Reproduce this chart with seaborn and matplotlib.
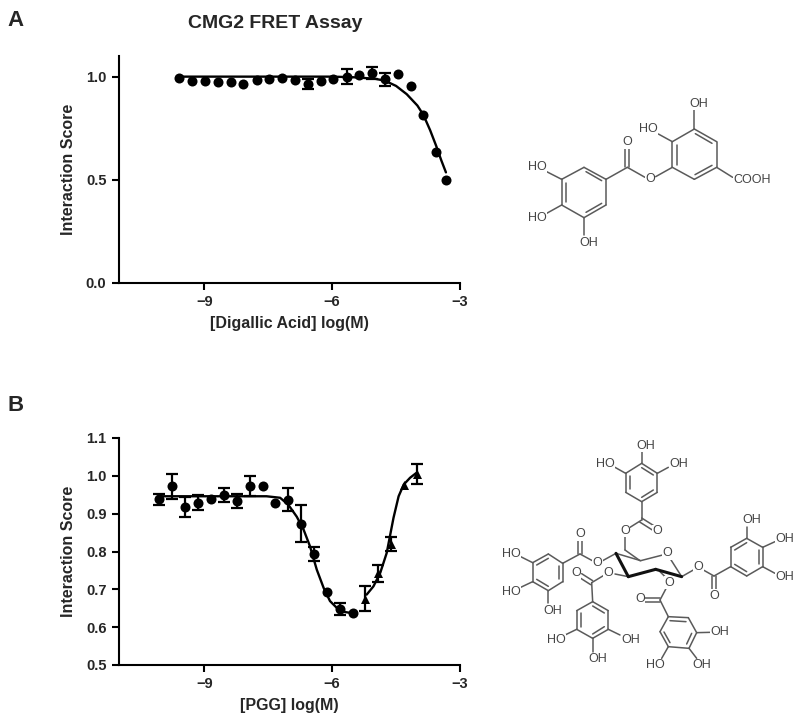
import matplotlib
matplotlib.use("Agg")
import matplotlib.pyplot as plt
import seaborn as sns
import pandas as pd

sns.set_theme(style="ticks")
plt.rcParams['font.family'] = ['Liberation Sans', 'DejaVu Sans']
plt.rcParams['font.weight'] = 'bold'

# panel A data
a_x = [-9.59, -9.28, -8.98, -8.68, -8.38, -8.08, -7.77, -7.47, -7.18, -6.87, -6.57,
       -6.27, -5.97, -5.66, -5.37, -5.06, -4.76, -4.46, -4.16, -3.86, -3.56, -3.33]
a_y = [0.995, 0.979, 0.977, 0.974, 0.974, 0.963, 0.984, 0.989, 0.992, 0.985, 0.963,
       0.979, 0.990, 1.0, 1.006, 1.019, 0.987, 1.015, 0.955, 0.813, 0.635, 0.500]
a_err = [0, 0, 0, 0, 0, 0, 0, 0, 0, 0, 0.025,
         0, 0, 0.035, 0, 0.03, 0.03, 0, 0, 0, 0, 0]
a_curve_x = [-9.59, -7.0, -6.0, -5.5, -5.0, -4.76, -4.5, -4.25, -4.0, -3.86, -3.7, -3.56, -3.44, -3.33]
a_curve_y = [1.0, 1.0, 1.0, 0.997, 0.99, 0.98, 0.955, 0.915, 0.86, 0.815, 0.74, 0.665, 0.595, 0.536]

# panel B data, circles then triangles
b_x = [-10.06, -9.75, -9.45, -9.14, -8.84, -8.54, -8.24, -7.93, -7.63, -7.33, -7.03,
       -6.73, -6.42, -6.13, -5.82, -5.52]
b_y = [0.938, 0.973, 0.918, 0.929, 0.940, 0.949, 0.933, 0.974, 0.973, 0.928, 0.937,
       0.874, 0.794, 0.692, 0.648, 0.637]
b_err = [0.014, 0.033, 0.026, 0.02, 0, 0.018, 0.019, 0.026, 0, 0, 0.031,
         0.048, 0.0185, 0, 0.016, 0]
tri_x = [-5.22, -4.92, -4.61, -4.32, -4.02]
tri_y = [0.675, 0.742, 0.820, 0.977, 1.004]
tri_err = [0.033, 0.022, 0.018, 0, 0.026]
b_curve1_x = [-10.06, -8.5, -7.54, -7.22, -7.03, -6.83, -6.67, -6.52, -6.36, -6.20, -6.05, -5.89, -5.70, -5.52]
b_curve1_y = [0.946, 0.946, 0.946, 0.942, 0.924, 0.892, 0.858, 0.814, 0.752, 0.704, 0.669, 0.651, 0.640, 0.637]
b_curve2_x = [-5.19, -5.03, -4.87, -4.72, -4.56, -4.44, -4.32, -4.17, -4.02]
b_curve2_y = [0.686, 0.708, 0.744, 0.796, 0.889, 0.946, 0.977, 0.995, 1.008]

x_ticks = [-9, -6, -3]
a_yticks = [0.0, 0.5, 1.0]
b_yticks = [0.5, 0.6, 0.7, 0.8, 0.9, 1.0, 1.1]

# molecule drawings, bonds as x1,y1,x2,y2 in a local grid
mol_a_bonds = [
    (222,232,288,268),(288,268,288,345),(288,345,222,383),(222,383,155,345),(155,345,155,268),(155,268,222,232),
    (228,245,275,272),(275,340,228,367),(168,335,168,278),
    (155,268,110,245),(155,345,110,370),(222,383,222,435),(288,268,352,232),
    (346,232,346,175),(358,232,358,175),(352,232,405,262),(437,260,487,232),
    (487,232,553,268),(553,268,620,232),(620,232,620,155),(620,155,553,117),(553,117,487,155),(487,155,487,232),
    (555,254,606,226),(606,160,556,131),(500,165,500,225),
    (487,155,445,132),(553,117,553,60),(620,232,668,262),
]
mol_a_labels = [(82,232,"HO"),(82,383,"HO"),(235,460,"OH"),(352,157,"O"),(420,268,"O"),
                (415,118,"HO"),(565,42,"OH"),(725,270,"COOH")]
mol_b_bonds = [
    (455,100,502,130),(502,130,502,187),(502,187,455,215),(455,215,407,187),(407,187,407,130),(407,130,455,100),
    (455,113,490,135),(490,180,455,202),(419,178,419,138),
    (455,100,455,65),(407,130,375,112),(502,130,535,112),(455,215,455,270),
    (455,264,493,288),(449,276,487,300),(455,270,420,292),(405,318,405,360),(405,360,450,392),
    (378,370,452,392),(452,392,518,375),(540,385,575,440),
    (722,410,722,352),(722,352,770,325),(770,325,818,352),(818,352,818,410),(818,410,770,438),(770,438,722,410),
    (734,360,770,338),(806,360,806,402),(770,425,734,403),
    (575,440,610,420),(640,420,672,438),(666,438,666,485),(678,438,678,485),(672,438,722,410),
    (770,325,770,290),(818,352,855,335),(818,410,855,430),
    (510,425,530,445),(530,472,510,510),(510,504,465,504),(510,516,465,516),(510,510,535,560),
    (535,560,595,563),(595,563,620,608),(620,608,597,655),(597,655,535,650),(535,650,510,605),(510,605,535,560),
    (540,572,588,575),(605,610,590,642),(540,638,522,606),
    (620,608,660,607),(535,650,515,685),(597,655,620,685),
    (415,440,375,432),(340,437,305,458),(308,452,275,431),(302,464,269,443),(305,458,308,515),
    (308,515,355,542),(355,542,355,598),(355,598,308,625),(308,625,260,598),(260,598,260,542),(260,542,308,515),
    (308,528,343,549),(343,590,308,612),(272,590,272,550),
    (260,598,225,615),(355,598,390,615),(308,625,308,665),
    (378,370,338,392),(307,392,270,372),(264,372,264,328),(276,372,276,328),(270,372,218,400),
    (218,400,218,455),(218,455,175,482),(175,482,128,455),(128,455,128,398),(128,398,175,372),(175,372,218,400),
    (206,408,206,447),(175,469,140,448),(140,405,175,385),
    (128,398,92,380),(128,455,92,472),(175,482,175,520),
]
mol_b_bold = [(378,370,415,440),(415,440,497,418),(497,418,575,440)]
mol_b_labels = [(468,47,"OH"),(345,103,"HO"),(565,103,"OH"),(503,303,"O"),(405,303,"O"),(533,370,"O"),
                (625,412,"O"),(672,497,"O"),(785,270,"OH"),(885,328,"OH"),(885,442,"OH"),
                (537,458,"O"),(450,508,"O"),(690,607,"OH"),(497,705,"HO"),(635,705,"OH"),
                (355,430,"O"),(258,430,"O"),(200,630,"HO"),(422,630,"OH"),(322,687,"OH"),
                (322,400,"O"),(272,313,"O"),(65,372,"HO"),(65,487,"HO"),(188,542,"OH")]

W, H = 800, 727


def make_axes(fig, left, right, top, bottom):
    return fig.add_axes([left / W, 1 - bottom / H, (right - left) / W, (bottom - top) / H])


def draw_points(ax, xs, ys, errs, marker, size):
    df = pd.DataFrame({"x": xs, "y": ys, "err": errs})
    sub = df[df["err"] > 0]
    ax.errorbar(sub["x"], sub["y"], yerr=sub["err"], fmt="none", ecolor="black",
                elinewidth=1.6, capsize=4.5, capthick=1.6)
    sns.scatterplot(data=df, x="x", y="y", ax=ax, color="black", marker=marker, s=size,
                    edgecolor="black", linewidth=0, zorder=3)


def draw_curve(ax, xs, ys):
    df = pd.DataFrame({"x": xs, "y": ys})
    sns.lineplot(data=df, x="x", y="y", ax=ax, color="black", linewidth=1.7,
                 estimator=None, sort=False)


def style_axes(ax, yticks, ymin, ymax, xlabel):
    ax.set_xlim(-11, -3)
    ax.set_ylim(ymin, ymax)
    ax.set_xticks(x_ticks)
    ax.set_yticks(yticks)
    ax.set_yticklabels([f"{v:.1f}" for v in yticks])
    ax.set_xlabel(xlabel, fontsize=11.5, fontweight="bold", labelpad=5)
    ax.set_ylabel("Interaction Score", fontsize=11.5, fontweight="bold", labelpad=7)
    ax.tick_params(axis="both", width=1.5, length=5, labelsize=10.5, color="black", pad=4)
    sns.despine(ax=ax)
    ax.spines["left"].set_linewidth(1.5)
    ax.spines["bottom"].set_linewidth(1.5)
    ax.spines["left"].set_color("black")
    ax.spines["bottom"].set_color("black")
    ax.patch.set_alpha(0)


def draw_molecule(fig, left, top, width, height, bonds, bold, labels):
    ax = make_axes(fig, left, left + width, top, top + height)
    ax.set_xlim(0, width * 3)
    ax.set_ylim(height * 3, 0)
    ax.axis("off")
    for x1, y1, x2, y2 in bonds:
        ax.plot([x1, x2], [y1, y2], color="#5a5a5a", linewidth=1.1, solid_capstyle="round")
    for x1, y1, x2, y2 in bold:
        ax.plot([x1, x2], [y1, y2], color="#111111", linewidth=2.2, solid_capstyle="round")
    for x, y, s in labels:
        ax.text(x, y, s, ha="center", va="center", fontsize=9, color="#444444", fontweight="normal",
                bbox=dict(facecolor="white", edgecolor="none", pad=0.3))


fig = plt.figure(figsize=(W / 100, H / 100), dpi=100)

ax_a = make_axes(fig, 119, 460, 56, 283)
draw_curve(ax_a, a_curve_x, a_curve_y)
draw_points(ax_a, a_x, a_y, a_err, "o", 52)
style_axes(ax_a, a_yticks, 0.0, 1.1, "[Digallic Acid] log(M)")

ax_b = make_axes(fig, 119, 460, 438, 665)
draw_curve(ax_b, b_curve1_x, b_curve1_y)
draw_curve(ax_b, b_curve2_x, b_curve2_y)
draw_points(ax_b, b_x, b_y, b_err, "o", 52)
draw_points(ax_b, tri_x, tri_y, tri_err, "^", 42)
style_axes(ax_b, b_yticks, 0.5, 1.1, "[PGG] log(M)")

draw_molecule(fig, 510, 90, 270, 170, mol_a_bonds, [], mol_a_labels)
draw_molecule(fig, 490, 430, 310, 260, mol_b_bonds, mol_b_bold, mol_b_labels)

fig.text(275 / W, 1 - 24 / H, "CMG2 FRET Assay", ha="center", va="center", fontsize=14, fontweight="bold")
fig.text(16 / W, 1 - 20 / H, "A", ha="center", va="center", fontsize=16, fontweight="bold")
fig.text(16 / W, 1 - 406 / H, "B", ha="center", va="center", fontsize=16, fontweight="bold")

fig.savefig("out.png", dpi=100)
